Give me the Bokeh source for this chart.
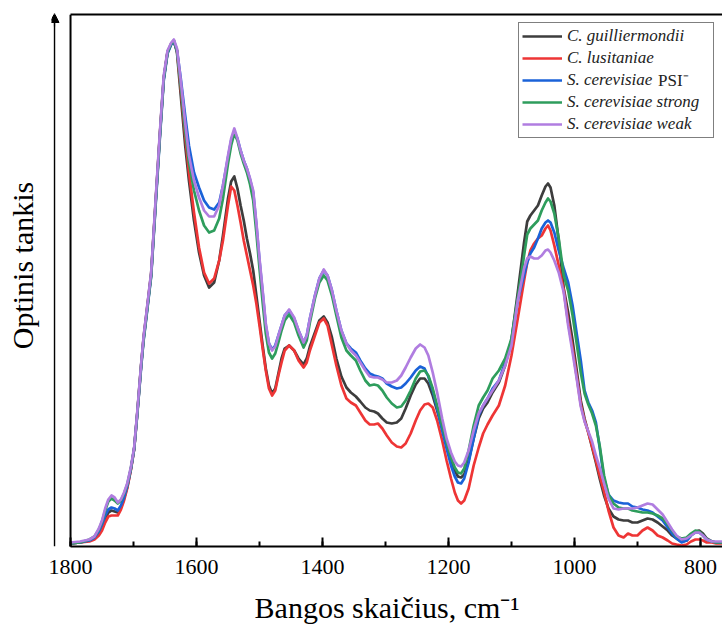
import numpy as np
from bokeh.plotting import figure
from bokeh.models import (Range1d, LinearAxis, FixedTicker, SingleIntervalTicker,
                          Legend, LegendItem, Arrow, NormalHead, Span)
from bokeh.embed import file_html
from bokeh.resources import INLINE

# Wavenumber grid, cm^-1
wavenumber = [
    1800, 1785, 1770, 1762, 1755, 1750, 1745, 1740, 1735, 1730, 1725, 1720, 1715, 1710,
    1704, 1699, 1694, 1688, 1684, 1680, 1672, 1665, 1658, 1652, 1646, 1640, 1636, 1631,
    1625, 1618, 1612, 1604, 1596, 1588, 1580, 1572, 1564, 1558, 1550, 1545, 1540, 1535,
    1530, 1525, 1520, 1515, 1510, 1505, 1500, 1495, 1490, 1485, 1480, 1475, 1470, 1465,
    1460, 1453, 1445, 1438, 1430, 1425, 1420, 1412, 1405, 1398, 1392, 1385, 1378, 1370,
    1362, 1355, 1347, 1340, 1332, 1325, 1318, 1312, 1305, 1298, 1290, 1282, 1275, 1268,
    1260, 1252, 1245, 1238, 1232, 1225, 1218, 1210, 1203, 1196, 1190, 1185, 1180, 1175,
    1168, 1160, 1152, 1145, 1138, 1130, 1120, 1110, 1100, 1090, 1080, 1075, 1070, 1064,
    1058, 1052, 1046, 1042, 1038, 1032, 1025, 1017, 1010, 1003, 996, 990, 984, 978,
    972, 966, 960, 953, 946, 938, 930, 922, 915, 908, 900, 892, 884, 876,
    868, 860, 852, 845, 838, 830, 822, 815, 808, 802, 796, 790, 782, 775, 760,
]

# Optical density, milli-units
c_guilliermondii = [
    6, 8, 12, 16, 28, 40, 56, 68, 72, 70, 68, 78, 96, 118,
    156, 196, 268, 362, 418, 460, 546, 688, 828, 938, 990, 1006, 1012, 988,
    902, 802, 732, 652, 588, 542, 518, 528, 572, 622, 696, 730, 740, 716,
    682, 652, 616, 586, 552, 502, 452, 402, 356, 322, 306, 316, 346, 376,
    396, 402, 392, 376, 364, 376, 400, 428, 452, 460, 448, 418, 376, 340,
    318, 308, 300, 290, 278, 272, 270, 266, 256, 248, 246, 248, 256, 276,
    302, 324, 336, 336, 326, 302, 272, 236, 202, 172, 152, 140, 138, 144,
    172, 216, 256, 276, 288, 308, 328, 362, 412, 508, 608, 650, 662, 672,
    682, 702, 720, 726, 718, 682, 612, 516, 468, 412, 348, 292, 256, 228,
    198, 168, 136, 102, 76, 60, 54, 52, 52, 48, 48, 52, 56, 54,
    48, 40, 32, 22, 16, 10, 12, 22, 30, 32, 26, 16, 10, 8, 8,
]

c_lusitaniae = [
    6, 8, 10, 14, 22, 32, 48, 60, 62, 62, 62, 74, 92, 116,
    154, 194, 266, 360, 416, 458, 544, 686, 826, 936, 988, 1006, 1010, 992,
    916, 822, 748, 668, 598, 548, 526, 536, 572, 612, 682, 720, 712, 682,
    648, 612, 582, 552, 522, 486, 442, 396, 352, 316, 302, 312, 342, 368,
    392, 402, 392, 372, 358, 368, 392, 422, 448, 456, 442, 402, 362, 322,
    296, 288, 282, 268, 252, 244, 244, 246, 236, 222, 208, 200, 198, 206,
    226, 252, 272, 284, 286, 278, 252, 212, 172, 136, 108, 92, 86, 92,
    116, 162, 198, 226, 244, 262, 282, 322, 382, 456, 532, 568, 592, 606,
    616, 622, 636, 642, 632, 602, 562, 512, 448, 396, 336, 284, 252, 228,
    200, 172, 142, 110, 72, 38, 22, 18, 26, 22, 22, 32, 38, 32,
    22, 18, 12, 6, 4, 2, 4, 10, 14, 14, 12, 8, 8, 6, 6,
]

s_cerevisiae_psi = [
    6, 8, 12, 18, 30, 44, 62, 74, 78, 76, 72, 82, 98, 120,
    156, 194, 264, 356, 412, 454, 540, 680, 820, 932, 986, 1004, 1010, 992,
    936, 862, 802, 748, 718, 692, 678, 674, 688, 722, 778, 812, 830, 816,
    792, 772, 756, 734, 708, 644, 572, 508, 442, 406, 394, 402, 422, 442,
    462, 472, 456, 432, 408, 422, 456, 502, 536, 552, 542, 512, 472, 432,
    406, 396, 388, 372, 356, 346, 342, 340, 336, 326, 320, 316, 318, 326,
    338, 352, 360, 356, 340, 312, 276, 232, 196, 162, 140, 128, 126, 136,
    168, 216, 262, 282, 296, 316, 332, 368, 412, 492, 542, 568, 586, 598,
    616, 636, 648, 652, 648, 628, 592, 556, 528, 482, 422, 372, 312, 288,
    272, 248, 198, 136, 104, 92, 88, 86, 86, 80, 78, 74, 72, 68,
    60, 52, 38, 26, 16, 8, 12, 22, 28, 28, 22, 14, 10, 8, 8,
]

s_cerevisiae_strong = [
    6, 8, 14, 20, 34, 50, 72, 90, 96, 92, 86, 92, 106, 124,
    158, 196, 266, 360, 414, 456, 542, 684, 824, 936, 988, 1006, 1012, 992,
    922, 832, 768, 712, 672, 642, 628, 632, 656, 696, 766, 802, 826, 812,
    786, 766, 748, 724, 692, 628, 556, 488, 426, 388, 376, 386, 408, 432,
    452, 464, 448, 422, 398, 412, 448, 496, 528, 542, 532, 502, 462, 418,
    392, 382, 372, 352, 332, 322, 324, 322, 312, 298, 286, 278, 280, 292,
    312, 336, 350, 352, 342, 316, 282, 242, 208, 178, 158, 148, 146, 156,
    192, 242, 282, 298, 312, 336, 352, 376, 416, 498, 582, 624, 636, 644,
    652, 672, 688, 696, 690, 666, 616, 542, 512, 462, 402, 348, 306, 284,
    266, 242, 202, 142, 104, 86, 78, 76, 76, 72, 70, 68, 68, 66,
    62, 56, 44, 32, 20, 16, 18, 26, 32, 30, 22, 14, 10, 8, 8,
]

s_cerevisiae_weak = [
    8, 10, 14, 20, 36, 52, 76, 94, 102, 98, 88, 94, 108, 126,
    160, 198, 270, 364, 420, 462, 548, 692, 832, 942, 992, 1008, 1014, 996,
    932, 848, 782, 732, 698, 672, 660, 660, 682, 722, 782, 816, 836, 816,
    792, 772, 756, 736, 712, 648, 576, 512, 446, 406, 392, 400, 422, 442,
    462, 474, 458, 432, 408, 422, 456, 502, 536, 554, 542, 512, 472, 432,
    406, 392, 382, 368, 352, 340, 338, 338, 334, 328, 328, 332, 342, 358,
    378, 396, 404, 398, 382, 348, 308, 256, 216, 188, 170, 162, 160, 168,
    192, 232, 266, 282, 296, 312, 332, 362, 402, 492, 556, 576, 580, 576,
    576, 582, 592, 594, 588, 572, 548, 508, 442, 388, 332, 280, 250, 230,
    210, 182, 158, 126, 96, 76, 74, 76, 76, 76, 78, 82, 86, 84,
    74, 64, 48, 34, 22, 14, 16, 22, 28, 28, 22, 14, 10, 10, 10,
]

series_names = ["C. guilliermondii", "C. lusitaniae", "S. cerevisiae",
                "S. cerevisiae strong", "S. cerevisiae weak"]
series_values = [c_guilliermondii, c_lusitaniae, s_cerevisiae_psi,
                 s_cerevisiae_strong, s_cerevisiae_weak]
series_colors = ["#3d3d3d", "#ee3535", "#1a62d8", "#2e9d5c", "#b07de0"]

x_ticks_major = 200
wn_max, wn_min = 1800, 765      # spectral window
x_pad = 30.2                    # room on the left for the arrow axis
arrow_gap = 25.4                # arrow axis sits this far before the window
y_top = 1.064

FONT = "Liberation Serif"
NBSP = "\u00a0"

x_range = Range1d(wn_max + x_pad, wn_min)
p = figure(width=722, height=629,
           x_range=x_range, y_range=Range1d(0, y_top),
           output_backend="svg", toolbar_location=None,
           min_border_left=51, min_border_right=0, min_border_top=14,
           min_border_bottom=83, outline_line_color=None)
p.grid.visible = False

# spectra
wn = np.array(wavenumber, dtype=float)
renderers = []
for vals, color in zip(series_values, series_colors):
    r = p.line(wn, np.array(vals, dtype=float) / 1000.0,
               line_color=color, line_width=2.7, line_join="round")
    renderers.append(r)

# bottom axis, spanning the spectral window only
xa = p.xaxis[0]
xa.bounds = (wn_min, wn_max)
xa.ticker = SingleIntervalTicker(interval=x_ticks_major, num_minor_ticks=2)
xa.major_tick_in = 9
xa.major_tick_out = 0
xa.minor_tick_in = 5
xa.minor_tick_out = 0
xa.axis_line_width = 2
xa.major_tick_line_width = 2
xa.minor_tick_line_width = 2
xa.axis_line_color = "black"
xa.major_tick_line_color = "black"
xa.minor_tick_line_color = "black"
xa.major_label_text_font = FONT
xa.major_label_text_font_size = "22px"
xa.major_label_text_color = "black"
xa.major_label_standoff = 13
xa.axis_label = "Bangos skaičius, cm⁻¹"
xa.axis_label_text_font = FONT
xa.axis_label_text_font_size = "30px"
xa.axis_label_text_font_style = "normal"
xa.axis_label_text_color = "black"
xa.axis_label_standoff = 14

# y axis: title only
ya = p.yaxis[0]
ya.ticker = FixedTicker(ticks=[])
ya.axis_line_color = None
ya.major_tick_line_color = None
ya.minor_tick_line_color = None
ya.major_tick_out = 0
ya.minor_tick_out = 0
ya.major_label_standoff = 0
ya.major_label_text_font_size = "0px"
ya.axis_label = NBSP * 4 + "Optinis tankis"
ya.axis_label_text_font = FONT
ya.axis_label_text_font_size = "30px"
ya.axis_label_text_font_style = "normal"
ya.axis_label_text_color = "black"
ya.axis_label_standoff = 13

# top frame line
top = LinearAxis(ticker=FixedTicker(ticks=[]), bounds=(wn_min, wn_max),
                 axis_line_width=2, axis_line_color="black",
                 major_tick_line_color=None, minor_tick_line_color=None,
                 major_tick_out=0, minor_tick_out=0, major_label_standoff=0,
                 major_label_text_font_size="0px")
p.add_layout(top, "above")

# left frame line at the start of the spectral window
p.add_layout(Span(location=wn_max, dimension="height",
                  line_color="black", line_width=2))

# vertical arrow axis left of the spectra
p.add_layout(Span(location=wn_max + arrow_gap, dimension="height",
                  line_color="black", line_width=1.4))
p.add_layout(Arrow(x_start=3, y_start=520, x_end=3, y_end=533,
                   start_units="screen", end_units="screen",
                   line_color="black", line_width=1.2,
                   end=NormalHead(size=9, fill_color="black", line_color="black", line_width=1)))

# legend
items = [LegendItem(label=n, renderers=[r]) for n, r in zip(series_names, renderers)]
legend = Legend(items=items, location=(467, 408),
                label_text_font=FONT, label_text_font_style="italic",
                label_text_font_size="17px", label_text_color="#222222",
                glyph_width=40, glyph_height=20, label_height=20, label_width=143,
                label_standoff=5, spacing=2, padding=3, margin=0,
                border_line_color="black", border_line_width=1,
                background_fill_color="white", background_fill_alpha=1)
p.add_layout(legend)

# upright strain suffix following the third legend label
psi_suffix = Legend(items=[LegendItem(label="PSI⁻", renderers=[renderers[2]])],
                    location=(607, 455),
                    label_text_font=FONT, label_text_font_style="normal",
                    label_text_font_size="17px", label_text_color="#222222",
                    glyph_width=0, glyph_height=20, label_height=20,
                    label_standoff=0, spacing=0, padding=0, margin=0,
                    border_line_color=None, background_fill_alpha=0)
p.add_layout(psi_suffix)

open("out.html", "w").write(file_html(p, INLINE))
